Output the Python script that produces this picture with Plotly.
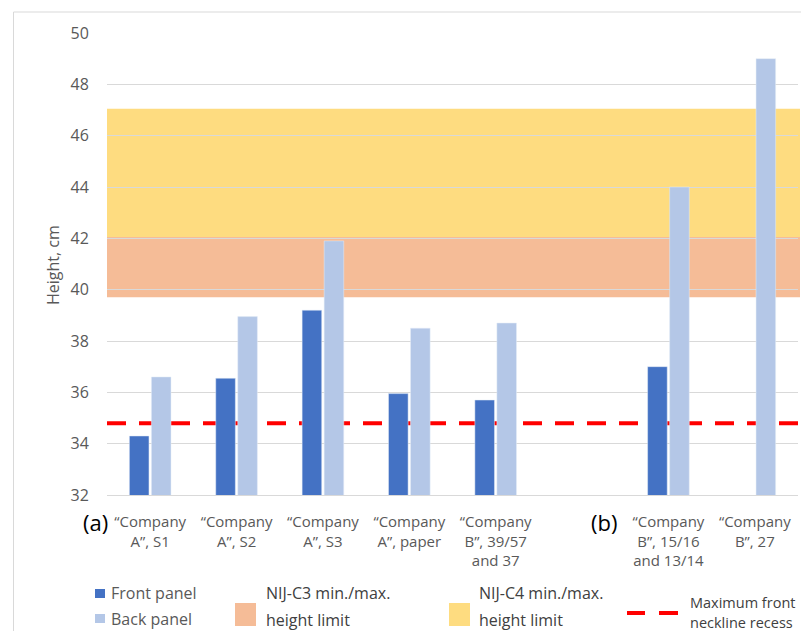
import plotly.graph_objects as go

categories = [
    "“Company<br>A”, S1",
    "“Company<br>A”, S2",
    "“Company<br>A”, S3",
    "“Company<br>A”, paper",
    "“Company<br>B”, 39/57<br>and 37",
    " ",
    "“Company<br>B”, 15/16<br>and 13/14",
    "“Company<br>B”, 27",
]
front_panel = [34.3, 36.55, 39.2, 35.95, 35.7, None, 37.0, None]
back_panel = [36.6, 38.95, 41.9, 38.5, 38.7, None, 44.0, 49.0]

c3_limits = [39.7, 42.05]
c4_limits = [42.05, 47.05]
neckline_recess = 34.8
y_ticks = [32, 34, 36, 38, 40, 42, 44, 46, 48, 50]

FRONT = "#4472C4"
BACK = "#B4C7E7"
C3 = "#F5BC97"
C4 = "#FEDC80"
RED = "#FF0000"
GRAY = "#595959"
DARK = "#404040"
FONT = "Open Sans"

# the page has an 8px body margin, so the figure is 8px smaller and offset
OFF = 8
W, H = 809 - OFF, 631 - OFF
L, R, T, B = 107 - OFF, 11, 33 - OFF, 136
PW = W - L - R
PH = H - T - B


def px(x):
    return (x - OFF - L) / PW


def py(y):
    return (H - B - (y - OFF)) / PH


fig = go.Figure()
fig.add_trace(go.Bar(x=categories, y=front_panel, name="Front panel",
                     marker=dict(color=FRONT), showlegend=False))
fig.add_trace(go.Bar(x=categories, y=back_panel, name="Back panel",
                     marker=dict(color=BACK), showlegend=False))

shapes = [
    dict(type="rect", xref="paper", yref="y", x0=0, x1=px(800),
         y0=c4_limits[0], y1=c4_limits[1], fillcolor=C4, line=dict(width=0),
         layer="below"),
    dict(type="rect", xref="paper", yref="y", x0=0, x1=px(800),
         y0=c3_limits[0], y1=c3_limits[1], fillcolor=C3, line=dict(width=0),
         layer="below"),
    dict(type="line", xref="paper", yref="y", x0=0, x1=px(807),
         y0=neckline_recess, y1=neckline_recess,
         line=dict(color=RED, width=4, dash="19px,13px"), layer="below"),
    # outer frame
    dict(type="rect", xref="paper", yref="paper", x0=px(13.5), x1=px(830),
         y0=py(660), y1=py(12), line=dict(color="#D9D9D9", width=1),
         fillcolor="rgba(0,0,0,0)", layer="below"),
    # legend swatches
    dict(type="rect", xref="paper", yref="paper", x0=px(95), x1=px(105),
         y0=py(598), y1=py(589), fillcolor=FRONT, line=dict(width=0)),
    dict(type="rect", xref="paper", yref="paper", x0=px(95), x1=px(105),
         y0=py(623), y1=py(614), fillcolor=BACK, line=dict(width=0)),
    dict(type="rect", xref="paper", yref="paper", x0=px(235), x1=px(256),
         y0=py(626), y1=py(603), fillcolor=C3, line=dict(width=0)),
    dict(type="rect", xref="paper", yref="paper", x0=px(449), x1=px(470),
         y0=py(626), y1=py(603), fillcolor=C4, line=dict(width=0)),
    dict(type="line", xref="paper", yref="paper", x0=px(627), x1=px(645),
         y0=py(613), y1=py(613), line=dict(color=RED, width=4)),
    dict(type="line", xref="paper", yref="paper", x0=px(659), x1=px(678),
         y0=py(613), y1=py(613), line=dict(color=RED, width=4)),
]


def txt(x, y, s, size=16, color=GRAY, anchor="left", angle=0):
    return dict(xref="paper", yref="paper", x=px(x), y=py(y), text=s,
                showarrow=False, xanchor=anchor, yanchor="middle",
                textangle=angle, font=dict(family=FONT, size=size, color=color))


annotations = [
    txt(53, 265, "Height, cm", size=16, anchor="center", angle=-90),
    txt(81, 522, "(a)", size=22, color="#000000"),
    txt(589, 522, "(b)", size=22, color="#000000"),
    txt(109, 593, "Front panel"),
    txt(109, 619, "Back panel"),
    txt(264, 593, "NIJ-C3 min./max.", color=DARK),
    txt(264, 620, "height limit", color=DARK),
    txt(477, 593, "NIJ-C4 min./max.", color=DARK),
    txt(477, 620, "height limit", color=DARK),
    txt(688, 602, "Maximum front", size=14.5, color=DARK),
    txt(688, 622, "neckline recess", size=14.5, color=DARK),
]

fig.update_layout(
    width=W, height=H,
    margin=dict(l=L, r=R, t=T, b=B),
    paper_bgcolor="white", plot_bgcolor="rgba(0,0,0,0)",
    barmode="group", bargap=0.49, bargroupgap=0.11,
    shapes=shapes, annotations=annotations,
    font=dict(family=FONT, color=GRAY),
    showlegend=False,
)
fig.update_xaxes(
    type="category", categoryorder="array", categoryarray=categories,
    showline=True, linecolor="#D9D9D9", linewidth=1, showgrid=False,
    ticks="outside", ticklen=13, tickcolor="rgba(0,0,0,0)",
    tickfont=dict(family=FONT, size=15, color=GRAY), tickangle=0,
)
fig.update_yaxes(
    range=[32, 50], tickvals=y_ticks, showgrid=True, gridcolor="#D9D9D9",
    gridwidth=1, zeroline=False, showline=False,
    ticks="outside", ticklen=14, tickcolor="rgba(0,0,0,0)",
    tickfont=dict(family=FONT, size=16, color=GRAY),
)

fig.write_html("out.html")
